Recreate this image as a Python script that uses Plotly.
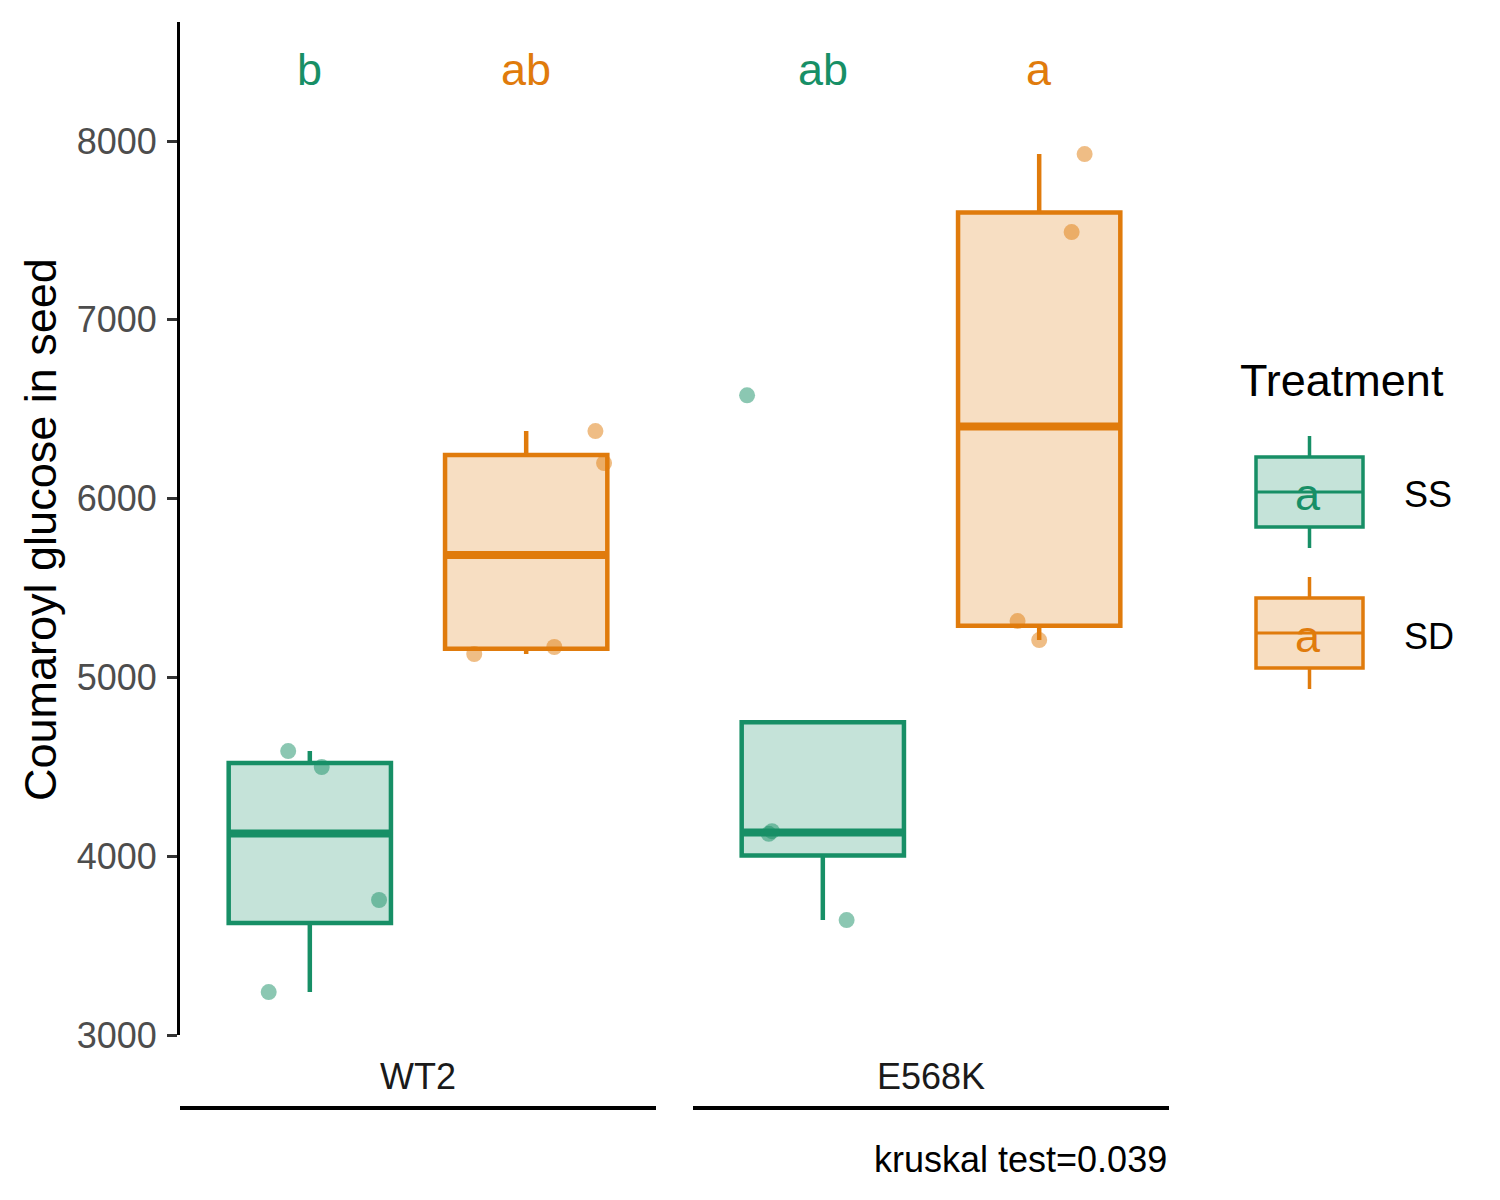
import numpy as np
import plotly.graph_objs as go

# data
genotypes = ['WT2', 'E568K']
treatments = ['SS', 'SD']
colors = {'SS': '#178F66', 'SD': '#E07B0C'}
fills = {'SS': 'rgba(23,143,102,0.25)', 'SD': 'rgba(224,123,12,0.25)'}
dots = {'SS': 'rgba(23,143,102,0.5)', 'SD': 'rgba(224,123,12,0.5)'}

wt2_ss = [4588, 4499, 3755, 3240]
wt2_sd = [5131, 5170, 6378, 6199]
e568k_ss = [6578, 4125, 4140, 3643]
e568k_sd = [7927, 7491, 5315, 5209]

# horizontal jitter of each point (category units)
wt2_ss_jit = [-0.10, 0.055, 0.32, -0.19]
wt2_sd_jit = [-0.24, 0.13, 0.32, 0.36]
e568k_ss_jit = [-0.35, -0.25, -0.235, 0.11]
e568k_sd_jit = [0.21, 0.15, -0.10, 0.0]

letters = {'WT2': ['b', 'ab'], 'E568K': ['ab', 'a']}
letter_y = 8400
kruskal = 'kruskal test=0.039'

values = {'WT2': [wt2_ss, wt2_sd], 'E568K': [e568k_ss, e568k_sd]}
jitters = {'WT2': [wt2_ss_jit, wt2_sd_jit], 'E568K': [e568k_ss_jit, e568k_sd_jit]}

FONT = 'Liberation Sans, Arial, sans-serif'
W, H = 1500, 1200
OFF = 8  # page body margin


def px(x):
    return (x - OFF) / W


def py(y):
    return 1 - (y - OFF) / H


def box_stats(vals):
    # ggplot style: type 7 quantiles, 1.5 IQR whiskers
    v = np.sort(np.array(vals, dtype=float))
    q1, med, q3 = np.percentile(v, [25, 50, 75])
    iqr = q3 - q1
    lo = v[v >= q1 - 1.5 * iqr].min()
    hi = v[v <= q3 + 1.5 * iqr].max()
    return q1, med, q3, min(lo, q1), max(hi, q3)


data = []
annotations = []
shapes = []
for g, gen in enumerate(genotypes):
    xa = 'x' if g == 0 else 'x2'
    ya = 'y' if g == 0 else 'y2'
    for t, tr in enumerate(treatments):
        pos = t + 1
        vals = values[gen][t]
        q1, med, q3, lo, hi = box_stats(vals)
        data.append(go.Box(
            x=[pos], q1=[q1], median=[med], q3=[q3], lowerfence=[lo], upperfence=[hi],
            xaxis=xa, yaxis=ya,
            width=0.75, boxpoints=False,
            whiskerwidth=0, fillcolor=fills[tr],
            line=dict(color=colors[tr], width=4.5),
            showlegend=False, hoverinfo='y',
        ))
        data.append(go.Scatter(
            x=[pos - 0.375, pos + 0.375], y=[med, med], xaxis=xa, yaxis=ya,
            mode='lines', line=dict(color=colors[tr], width=8),
            showlegend=False, hoverinfo='skip',
        ))
        data.append(go.Scatter(
            x=[pos + j for j in jitters[gen][t]], y=vals, xaxis=xa, yaxis=ya,
            mode='markers', marker=dict(size=16, color=dots[tr]),
            showlegend=False,
        ))
        annotations.append(dict(
            x=pos, y=letter_y, xref=xa, yref=ya, text=letters[gen][t],
            xanchor='center', yanchor='middle', showarrow=False,
            font=dict(size=45, color=colors[tr], family=FONT),
        ))
    # facet strip label + line
    dom = xa + ' domain'
    annotations.append(dict(
        x=0.5, y=py(1076), xref=dom, yref='paper', text=gen, showarrow=False,
        xanchor='center', yanchor='middle',
        font=dict(size=36, color='#1a1a1a', family=FONT),
    ))
    shapes.append(dict(
        type='line', xref=dom, yref='paper', x0=0, x1=1, y0=py(1108), y1=py(1108),
        line=dict(color='black', width=4),
    ))

annotations.append(dict(
    x=1, y=py(1159), xref='x2 domain', yref='paper', xanchor='right', yanchor='middle',
    text=kruskal, showarrow=False, font=dict(size=36, color='black', family=FONT),
))
annotations.append(dict(
    x=px(40), y=py(530), xref='paper', yref='paper', textangle=-90,
    xanchor='center', yanchor='middle',
    text='Coumaroyl glucose in seed', showarrow=False,
    font=dict(size=45, color='black', family=FONT),
))

# manual legend
annotations.append(dict(
    x=px(1238), y=py(381), xref='paper', yref='paper', xanchor='left', yanchor='middle',
    text='Treatment', showarrow=False, font=dict(size=45, color='black', family=FONT),
))
key_top = {'SS': 457, 'SD': 598}
for tr in treatments:
    top = key_top[tr]
    bot = top + 70
    mid = (top + bot) / 2
    shapes.append(dict(
        type='rect', xref='paper', yref='paper', x0=px(1256), x1=px(1363),
        y0=py(bot), y1=py(top), fillcolor=fills[tr],
        line=dict(color=colors[tr], width=3.5),
    ))
    for y0, y1 in [(top - 21, top), (bot, bot + 21)]:
        shapes.append(dict(
            type='line', xref='paper', yref='paper', x0=px(1309.5), x1=px(1309.5),
            y0=py(y0), y1=py(y1), line=dict(color=colors[tr], width=3.5),
        ))
    shapes.append(dict(
        type='line', xref='paper', yref='paper', x0=px(1256), x1=px(1363),
        y0=py(mid), y1=py(mid), line=dict(color=colors[tr], width=3),
    ))
    annotations.append(dict(
        x=px(1308), y=py(mid + 3), xref='paper', yref='paper', text='a',
        xanchor='center', yanchor='middle',
        showarrow=False, font=dict(size=45, color=colors[tr], family=FONT),
    ))
    annotations.append(dict(
        x=px(1402), y=py(mid + 3), xref='paper', yref='paper', xanchor='left',
        yanchor='middle',
        text=tr, showarrow=False, font=dict(size=36, color='black', family=FONT),
    ))

ydom = [py(1035), py(22)]
yrange = [3000, 8666]
xaxis_common = dict(range=[0.4, 2.6], visible=False, showgrid=False, zeroline=False,
                    automargin=False)

layout = go.Layout(
    width=W, height=H,
    margin=dict(l=0, r=0, t=0, b=0, pad=0),
    paper_bgcolor='white', plot_bgcolor='white',
    boxmode='overlay',
    showlegend=False,
    xaxis=dict(domain=[px(180), px(656)], anchor='y', **xaxis_common),
    xaxis2=dict(domain=[px(693), px(1169)], anchor='y2', **xaxis_common),
    yaxis=dict(
        domain=ydom, range=yrange, anchor='x', automargin=False,
        tickvals=[3000, 4000, 5000, 6000, 7000, 8000],
        showline=True, linecolor='black', linewidth=3,
        ticks='outside', ticklen=10, tickwidth=3, tickcolor='#333333',
        ticklabelstandoff=3,
        tickfont=dict(size=36, color='#4D4D4D', family=FONT),
        showgrid=False, zeroline=False,
    ),
    yaxis2=dict(domain=ydom, range=yrange, anchor='x2', visible=False,
                showgrid=False, zeroline=False, automargin=False),
    annotations=annotations,
    shapes=shapes,
    font=dict(family=FONT),
)

fig = go.Figure(data=data, layout=layout)
fig.write_html("out.html")
